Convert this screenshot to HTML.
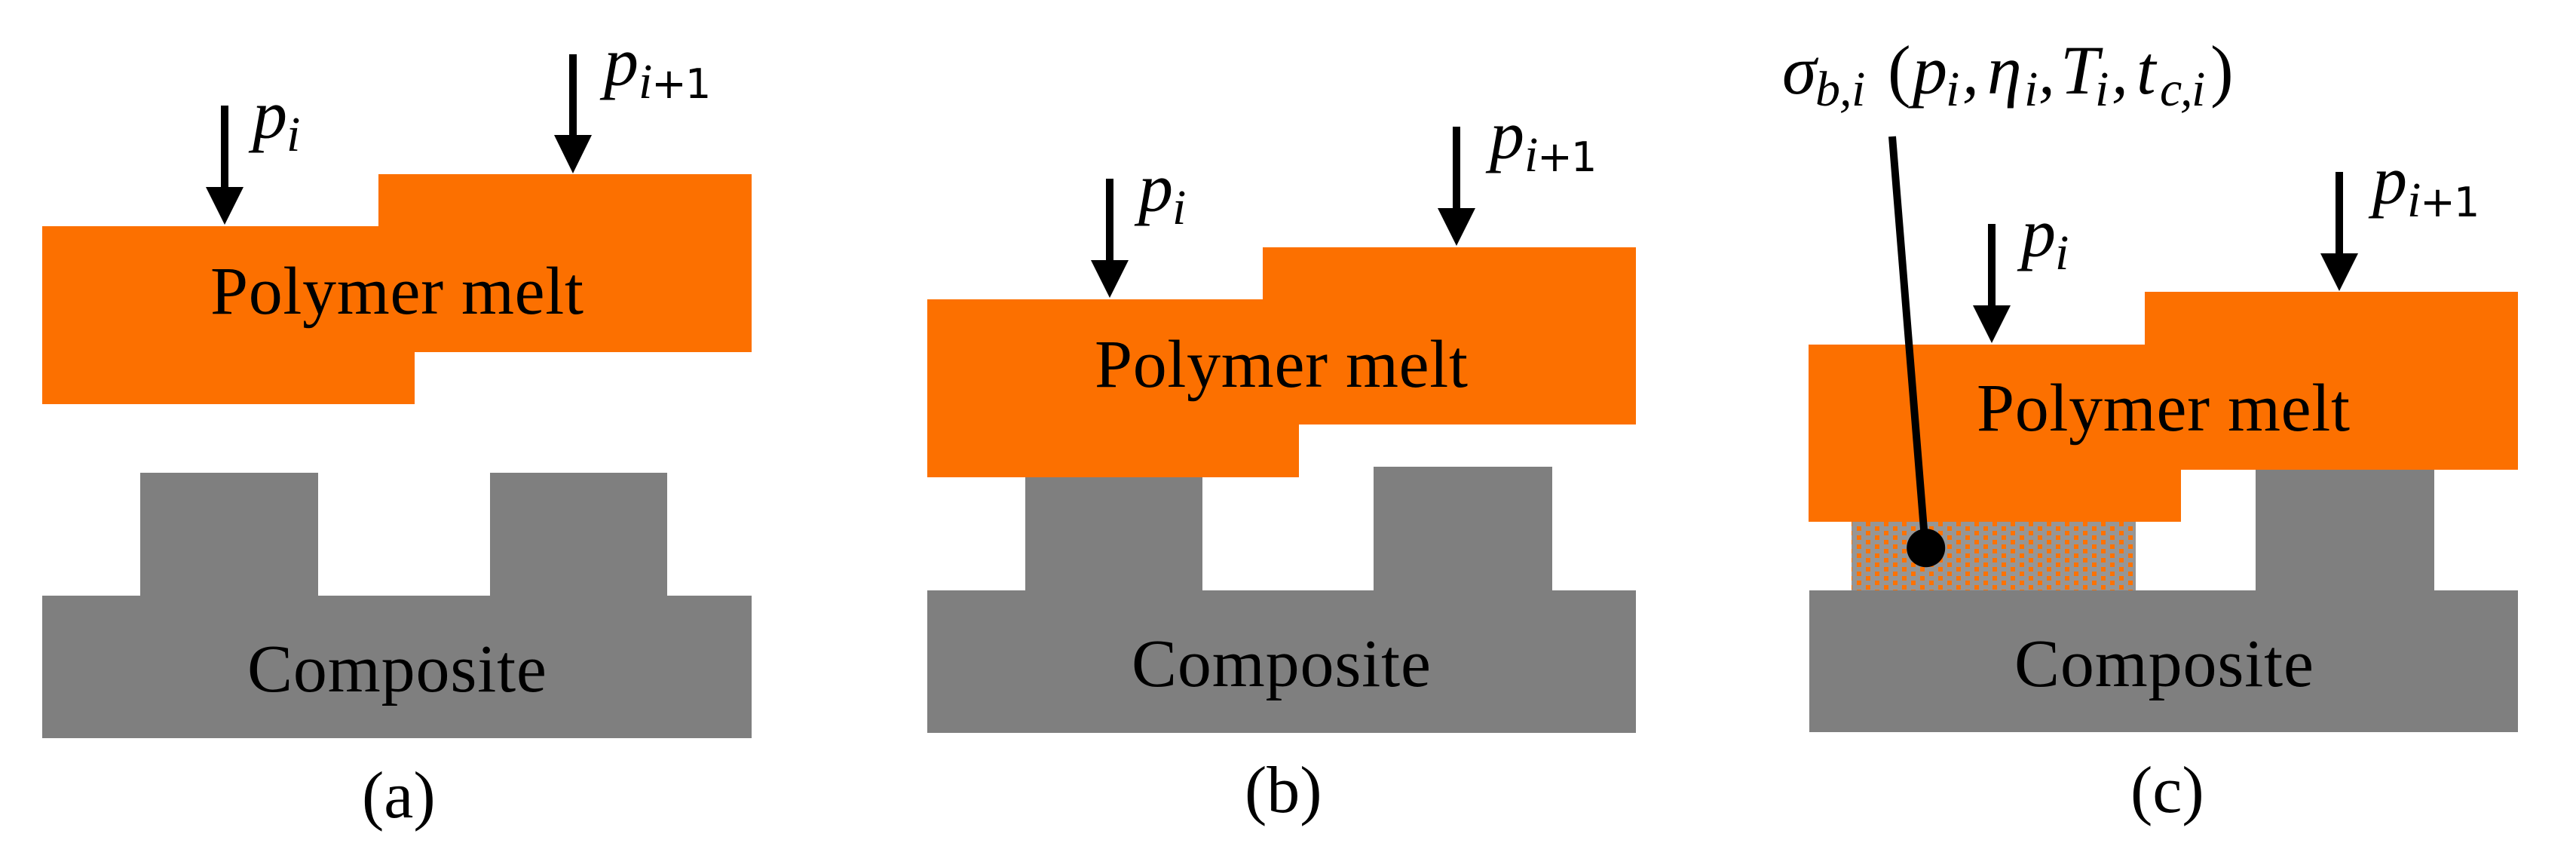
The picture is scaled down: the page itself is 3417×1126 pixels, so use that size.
<!DOCTYPE html>
<html><head><meta charset="utf-8"><style>
html,body{margin:0;padding:0;background:#fff;width:3417px;height:1126px;overflow:hidden}
svg{display:block}
text{font-family:"Liberation Serif",serif;fill:#000}
.m{font-size:90px}
.c{font-size:88px}
.v{font-size:92px;font-style:italic}
.s{font-size:66px;font-style:italic}
.n{font-family:"DejaVu Sans",sans-serif;fill:#000}
</style></head><body>
<svg xmlns="http://www.w3.org/2000/svg" width="3417" height="1126" viewBox="0 0 3417 1126">
<defs><pattern id="d" patternUnits="userSpaceOnUse" x="2463" y="692" width="24" height="12"><rect width="24" height="12" fill="#969696"/><rect x="0" y="6" width="6" height="6" fill="#ff7200"/><rect x="12" y="0" width="6" height="6" fill="#ff7200"/></pattern></defs>
<rect width="3417" height="1126" fill="#fff"/>
<g shape-rendering="crispEdges">
<!-- a -->
<path fill="#7f7f7f" d="M56 790H186V627H422V790H650V627H885V790H997V979H56Z"/>
<path fill="#fc7000" d="M56 300H502V231H997V467H550V536H56Z"/>
<!-- b -->
<path fill="#7f7f7f" d="M1230 783H1360V600H1595V783H1822V619H2059V783H2170V972H1230Z"/>
<path fill="#fc7000" d="M1230 397H1675V328H2170V563H1723V633H1230Z"/>
<!-- c -->
<path fill="#7f7f7f" d="M2400 783H2992V600H3229V783H3340V971H2400Z"/>
<rect x="2456" y="692" width="377" height="91" fill="url(#d)"/>
<path fill="#fc7000" d="M2399 457H2845V387H3340V623H2893V692H2399Z"/>
</g>
<!-- arrows -->
<path d="M293 140h10v108h20l-25 50l-25-50h20z"/>
<path d="M755 72h10v107h20l-25 51l-25-51h20z"/>
<path d="M1467 237h10v108h20l-25 50l-25-50h20z"/>
<path d="M1927 168h10v108h20l-25 50l-25-50h20z"/>
<path d="M2637 297h10v108h20l-25 50l-25-50h20z"/>
<path d="M3098 228h10v108h20l-25 50l-25-50h20z"/>
<!-- leader -->
<line x1="2510" y1="181" x2="2554" y2="727" stroke="#000" stroke-width="10"/>
<circle cx="2554.7" cy="726.7" r="25.5" fill="#000"/>
<!-- main labels -->
<text class="m" x="279" y="416" textLength="495">Polymer melt</text>
<text class="m" x="1452" y="513" textLength="495">Polymer melt</text>
<text class="m" x="2622" y="571" textLength="495">Polymer melt</text>
<text class="m" x="328" y="917" textLength="397">Composite</text>
<text class="m" x="1501" y="910" textLength="397">Composite</text>
<text class="m" x="2672" y="910" textLength="397">Composite</text>
<text class="c" x="480" y="1084">(a)</text>
<text class="c" x="1651" y="1077">(b)</text>
<text class="c" x="2826" y="1077">(c)</text>
<!-- a math -->
<text class="v" x="335" y="183">p</text><text class="s" x="380" y="200">i</text>
<text class="v" x="801" y="113">p</text><text class="s" x="847" y="130">i</text><text class="n" font-size="56" x="864" y="130">+</text><text class="n" font-size="54" x="909" y="130">1</text>
<!-- b math -->
<text class="v" x="1510" y="280">p</text><text class="s" x="1555" y="297">i</text>
<text class="v" x="1976" y="210">p</text><text class="s" x="2022" y="227">i</text><text class="n" font-size="56" x="2039" y="227">+</text><text class="n" font-size="54" x="2084" y="227">1</text>
<!-- c math -->
<text class="v" x="2681" y="340">p</text><text class="s" x="2726" y="357">i</text>
<text class="v" x="3147" y="270">p</text><text class="s" x="3193" y="287">i</text><text class="n" font-size="56" x="3210" y="287">+</text><text class="n" font-size="54" x="3255" y="287">1</text>
<!-- sigma expression -->
<text class="v" x="2364" y="124">σ</text><text class="s" x="2408" y="140">b</text><text class="s" x="2440" y="140">,</text><text class="s" x="2456" y="140">i</text>
<text x="2504" y="124" font-size="92">(</text>
<text class="v" x="2537" y="124">p</text><text class="s" x="2581" y="140">i</text><text x="2603" y="124" font-size="87" font-style="italic">,</text>
<text class="v" x="2636" y="124">η</text><text class="s" x="2685" y="140">i</text><text x="2704" y="124" font-size="87" font-style="italic">,</text>
<text class="v" x="2733" y="124">T</text><text class="s" x="2779" y="140">i</text><text x="2801" y="124" font-size="87" font-style="italic">,</text>
<text class="v" x="2834" y="124">t</text><text class="s" x="2865" y="140">c</text><text class="s" x="2892" y="140">,</text><text class="s" x="2907" y="140">i</text>
<text x="2932" y="124" font-size="92">)</text>
</svg>
</body></html>
